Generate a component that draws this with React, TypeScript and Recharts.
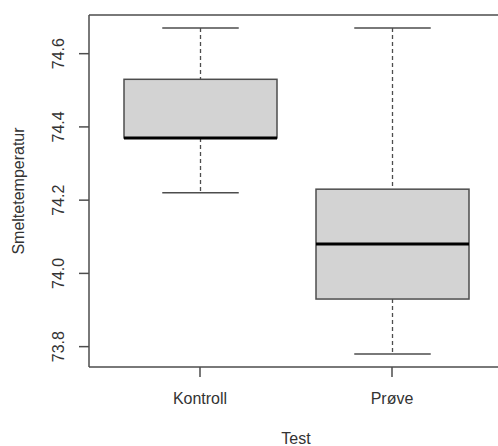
import { ComposedChart, Bar, XAxis, YAxis, ReferenceLine, Label } from 'recharts';

const categories = ['Kontroll', 'Prøve'];
const mins = [74.22, 73.78];
const q1s = [74.37, 73.93];
const medians = [74.37, 74.08];
const q3s = [74.53, 74.23];
const maxs = [74.67, 74.67];
const yTicks = [73.8, 74.0, 74.2, 74.4, 74.6];

const data = categories.map((name, i) => ({
  name,
  range: [mins[i], maxs[i]],
  min: mins[i],
  q1: q1s[i],
  median: medians[i],
  q3: q3s[i],
  max: maxs[i],
}));

// R-style axis range: data range plus 4% on each side
const lo = Math.min(...mins);
const hi = Math.max(...maxs);
const yLo = lo - (hi - lo) * 0.04;
const yHi = hi + (hi - lo) * 0.04;

const LINE = '#4d4d4d';
const TEXT = '#333';
const FONT = '"Liberation Sans", Arial, sans-serif';

const BoxShape = (props: any) => {
  const { x, y, width, height, payload } = props;
  const { min, q1, median, q3, max } = payload;
  const k = height / (max - min);
  const py = (v: number) => y + (max - v) * k;
  const cx = x + width / 2;
  const cap = width / 4;
  return (
    <g>
      <line x1={cx} x2={cx} y1={py(max)} y2={py(q3)} stroke={LINE} strokeWidth={1.3} strokeDasharray="4 3" />
      <line x1={cx} x2={cx} y1={py(q1)} y2={py(min)} stroke={LINE} strokeWidth={1.3} strokeDasharray="4 3" />
      <line x1={cx - cap} x2={cx + cap} y1={py(max)} y2={py(max)} stroke={LINE} strokeWidth={1.5} />
      <line x1={cx - cap} x2={cx + cap} y1={py(min)} y2={py(min)} stroke={LINE} strokeWidth={1.5} />
      <rect x={x} y={py(q3)} width={width} height={py(q1) - py(q3)} fill="#d3d3d3" stroke={LINE} strokeWidth={1.5} />
      <line x1={x} x2={x + width} y1={py(median)} y2={py(median)} stroke="#000" strokeWidth={3} />
    </g>
  );
};

const YTick = (props: any) => {
  const { y, payload } = props;
  const tx = 58.5;
  return (
    <text x={tx} y={y} transform={`rotate(-90, ${tx}, ${y})`} textAnchor="middle" dominantBaseline="central"
      fill={TEXT} fontSize={16} fontFamily={FONT}>
      {Number(payload.value).toFixed(1)}
    </text>
  );
};

const XTick = (props: any) => {
  const { x, payload } = props;
  return (
    <text x={x} y={398} textAnchor="middle" dominantBaseline="central" fill={TEXT} fontSize={16} fontFamily={FONT}>
      {payload.value}
    </text>
  );
};

export default function App() {
  return (
    <div style={{ position: 'absolute', left: 0, top: 0, width: 498, height: 446, overflow: 'hidden', background: '#fff' }}>
      <ComposedChart width={510} height={446} data={data} margin={{ top: 15, right: 7, bottom: 0, left: 0 }}>
        <XAxis
          dataKey="name"
          height={79}
          padding={{ left: 15, right: 15 }}
          axisLine={{ stroke: LINE, strokeWidth: 1.5 }}
          tickLine={{ stroke: LINE, strokeWidth: 1.5 }}
          tickSize={10}
          tick={<XTick />}
        >
          <Label
            content={(p: any) => (
              <text x={p.viewBox.x + p.viewBox.width / 2} y={438} textAnchor="middle" dominantBaseline="central"
                fill={TEXT} fontSize={16} fontFamily={FONT}>
                Test
              </text>
            )}
          />
        </XAxis>
        <YAxis
          type="number"
          width={89}
          domain={[yLo, yHi]}
          allowDataOverflow
          ticks={yTicks}
          axisLine={{ stroke: LINE, strokeWidth: 1.5 }}
          tickLine={{ stroke: LINE, strokeWidth: 1.5 }}
          tickSize={10}
          tick={<YTick />}
        >
          <Label
            content={(p: any) => {
              const cy = p.viewBox.y + p.viewBox.height / 2;
              return (
                <text x={18} y={cy} transform={`rotate(-90, 18, ${cy})`} textAnchor="middle" dominantBaseline="central"
                  fill={TEXT} fontSize={16} fontFamily={FONT}>
                  Smeltetemperatur
                </text>
              );
            }}
          />
        </YAxis>
        <ReferenceLine y={yHi} stroke={LINE} strokeWidth={1.5} ifOverflow="visible" />
        <Bar dataKey="range" barSize={153} shape={(p: any) => <BoxShape {...p} />} isAnimationActive={false} />
      </ComposedChart>
    </div>
  );
}
